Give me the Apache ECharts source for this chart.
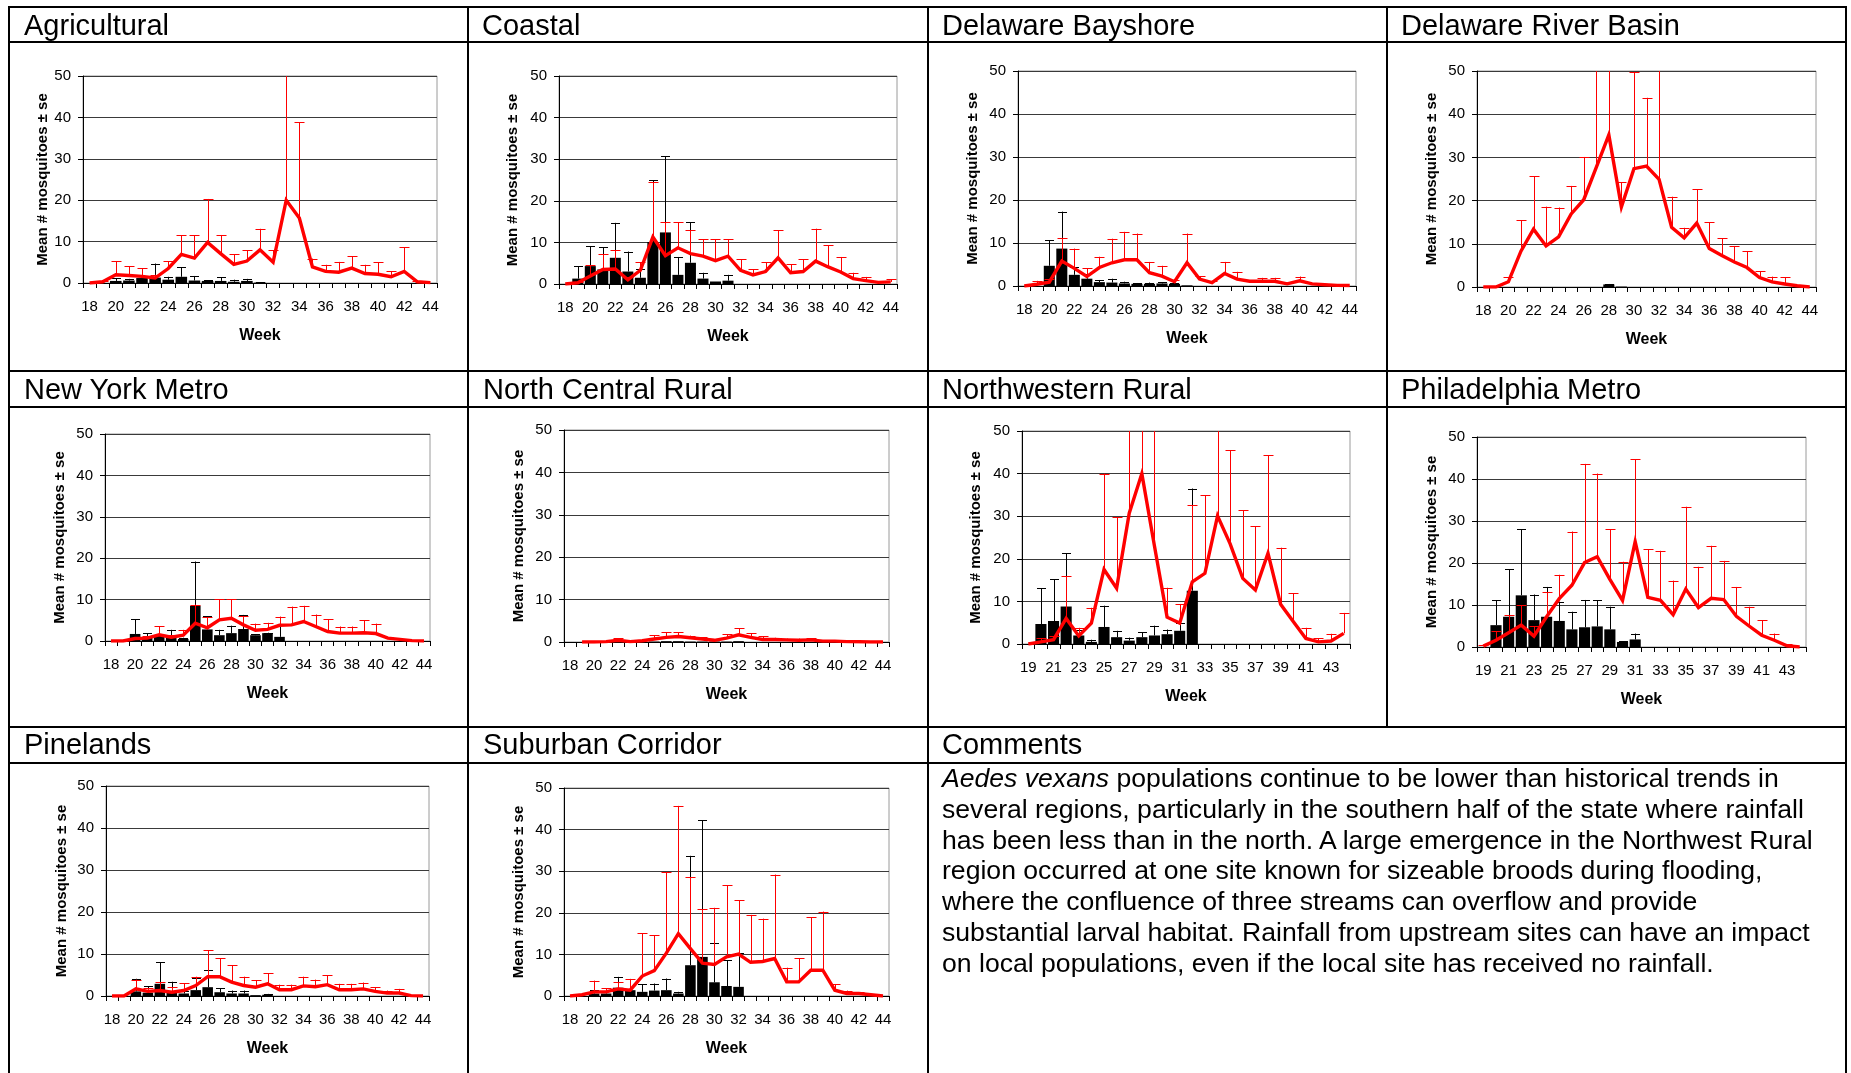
<!DOCTYPE html>
<html>
<head>
<meta charset="utf-8">
<script src="https://cdn.jsdelivr.net/npm/echarts@6/dist/echarts.min.js"></script>
<style>
html,body{margin:0;padding:0;background:#fff;}
#wrap{position:relative;width:1851px;height:1073px;overflow:hidden;font-family:'Liberation Sans',Arial,sans-serif;color:#000;}
#chart{position:absolute;left:0;top:0;width:1851px;height:1073px;}
.ln{position:absolute;background:#000;}
.ttl{position:absolute;font-size:29px;line-height:30px;white-space:nowrap;}
#cm{position:absolute;left:942px;top:763px;font-size:26.6px;line-height:30.8px;white-space:nowrap;}
</style>
</head>
<body>
<div id="wrap">
  <div id="chart"></div>
  <!-- table lines -->
  <div class="ln" style="left:8px;top:6px;width:1839px;height:2px"></div>
  <div class="ln" style="left:8px;top:41px;width:1839px;height:2px"></div>
  <div class="ln" style="left:8px;top:370px;width:1839px;height:2px"></div>
  <div class="ln" style="left:8px;top:406px;width:1839px;height:2px"></div>
  <div class="ln" style="left:8px;top:726px;width:1839px;height:2px"></div>
  <div class="ln" style="left:8px;top:762px;width:1839px;height:2px"></div>
  <div class="ln" style="left:8px;top:6px;width:2px;height:1067px"></div>
  <div class="ln" style="left:467px;top:6px;width:2px;height:1067px"></div>
  <div class="ln" style="left:927px;top:6px;width:2px;height:1067px"></div>
  <div class="ln" style="left:1386px;top:6px;width:2px;height:722px"></div>
  <div class="ln" style="left:1845px;top:6px;width:2px;height:1067px"></div>
  <!-- titles -->
  <div class="ttl" style="left:24px;top:10px">Agricultural</div>
  <div class="ttl" style="left:482px;top:10px">Coastal</div>
  <div class="ttl" style="left:942px;top:10px">Delaware Bayshore</div>
  <div class="ttl" style="left:1401px;top:10px">Delaware River Basin</div>
  <div class="ttl" style="left:24px;top:374px">New York Metro</div>
  <div class="ttl" style="left:483px;top:374px">North Central Rural</div>
  <div class="ttl" style="left:942px;top:374px">Northwestern Rural</div>
  <div class="ttl" style="left:1401px;top:374px">Philadelphia Metro</div>
  <div class="ttl" style="left:24px;top:729px">Pinelands</div>
  <div class="ttl" style="left:483px;top:729px">Suburban Corridor</div>
  <div class="ttl" style="left:942px;top:729px">Comments</div>
  <div id="cm"><i>Aedes vexans</i> populations continue to be lower than historical trends in<br>several regions, particularly in the southern half of the state where rainfall<br>has been less than in the north. A large emergence in the Northwest Rural<br>region occurred at one site known for sizeable broods during flooding,<br>where the confluence of three streams can overflow and provide<br>substantial larval habitat. Rainfall from upstream sites can have an impact<br>on local populations, even if the local site has received no rainfall.</div>
</div>
<script>
// ---------- tick labels (weeks) ----------
const weeks18 = ['18','19','20','21','22','23','24','25','26','27','28','29','30','31','32','33','34','35','36','37','38','39','40','41','42','43','44'];
const weeks19 = ['19','20','21','22','23','24','25','26','27','28','29','30','31','32','33','34','35','36','37','38','39','40','41','42','43','44'];
const yTicks = [0, 10, 20, 30, 40, 50];

// ---------- Agricultural ----------
const agBar = [0,0,0.5,0.6,1.2,1.3,0.8,1.5,0.6,0.5,0.5,0.3,0.5,0.1,0,0,0,0,0,0,0,0,0,0,0,0,0];
const agBarTop = [null,null,1.2,1.0,1.8,4.7,1.5,3.8,1.7,0.7,1.4,0.8,1.0,0.2,null,null,null,null,null,null,null,null,null,null,null,null,null];
const agLine = [0,0.3,2.0,1.8,1.6,1.2,3.5,6.9,6.0,9.8,7.1,4.5,5.3,8.0,5.0,20.0,15.7,3.9,2.8,2.6,3.6,2.3,2.1,1.5,2.8,0.3,0.1];
const agLineTop = [null,0.5,5.3,4.1,3.6,2.0,5.3,11.5,11.5,20.3,11.6,6.9,7.9,13.1,7.9,55,38.8,5.9,4.4,5.1,6.5,4.4,5.0,2.8,8.6,0.6,null];

// ---------- Coastal ----------
const coBar = [0,1.3,4.3,3.5,6.3,3.0,1.5,10.1,12.4,2.2,5.1,1.3,0.6,0.8,0,0,0,0,0,0,0,0,0,0,0,0,0];
const coBarTop = [null,4.3,9.1,8.8,14.7,7.8,3.7,25.0,30.7,6.5,14.9,2.7,0.6,2.2,null,null,null,null,null,null,null,null,null,null,null,null,null];
const coLine = [0,0.3,1.9,3.5,3.6,1.0,3.3,11.3,6.8,8.7,7.3,6.7,5.6,6.7,3.3,2.2,3.0,6.3,2.7,3.0,5.5,4.1,2.9,1.3,0.8,0.4,0.5];
const coLineTop = [null,0.5,4.5,7.2,8.1,1.7,5.2,24.5,14.9,14.9,12.9,10.8,10.8,10.8,5.9,3.6,5.2,12.9,4.7,6.0,13.3,9.3,6.5,2.7,1.7,0.6,1.2];

// ---------- Delaware Bayshore ----------
const dbBar = [0,0,4.7,8.7,2.6,1.7,0.9,0.8,0.6,0.5,0.5,0.6,0.5,0.15,0,0,0,0,0,0,0,0,0,0,0,0,0];
const dbBarTop = [null,null,10.6,17.3,4.5,2.9,1.4,1.7,1.0,0.7,0.8,0.9,0.6,null,null,null,null,null,null,null,null,null,null,null,null,null,null];
const dbLine = [0,0.4,0.9,5.8,4.1,2.2,4.3,5.4,6.1,6.1,3.1,2.3,1.0,5.4,1.6,0.8,2.9,1.6,1.1,1.1,1.1,0.5,1.2,0.5,0.3,0.15,0.1];
const dbLineTop = [null,1.2,1.6,11.2,8.7,4.1,6.8,11.0,12.6,12.2,5.6,4.7,1.3,12.2,2.3,1.2,5.6,3.3,1.2,1.9,1.9,0.8,2.2,0.4,0.3,null,null];

// ---------- Delaware River Basin ----------
const drBar = [0,0,0,0,0,0,0,0,0,0,0.6,0.1,0,0,0,0,0,0,0,0,0,0,0,0,0,0,0];
const drBarTop = [null,null,null,null,null,null,null,null,null,null,0.7,null,null,null,null,null,null,null,null,null,null,null,null,null,null,null,null];
const drLine = [0,0,1.2,8.3,13.4,9.5,11.6,16.9,20.2,27.7,35.2,18.5,27.4,28.0,24.9,13.8,11.4,14.8,8.9,7.3,5.8,4.5,2.2,1.2,0.7,0.3,0];
const drLineTop = [null,null,2.2,15.5,25.6,18.6,18.4,23.4,30.1,55,55,24.3,49.8,43.8,55,20.9,13.7,22.6,15.0,11.3,9.5,8.3,3.6,2.4,2.2,0.3,null];

// ---------- New York Metro ----------
const nyBar = [0,0,1.7,0.8,1.4,0.8,0.5,8.5,2.8,1.4,1.9,2.9,1.4,1.9,1.0,0,0,0,0,0,0,0,0,0,0,0,0];
const nyBarTop = [null,null,5.2,1.9,3.6,2.7,0.8,19.2,6.0,2.7,3.7,6.3,1.6,2.0,3.9,null,null,null,null,null,null,null,null,null,null,null,null];
const nyLine = [0,0,0.6,0.7,1.5,0.9,1.4,4.3,3.2,5.1,5.5,3.9,2.6,2.8,3.8,3.9,4.7,3.5,2.3,1.9,1.9,2.0,1.8,0.7,0.4,0.1,0];
const nyLineTop = [null,null,null,1.2,3.6,1.4,2.7,8.8,5.7,10.1,10.1,6.0,4.2,4.4,5.9,8.3,8.5,6.4,5.2,3.5,3.5,5.0,4.2,0.9,0.5,null,null];

// ---------- North Central Rural ----------
const ncBar = [0,0,0,0,0,0,0,0.1,0.2,0.2,0.1,0.1,0.1,0.1,0.2,0,0,0,0,0,0,0,0,0,0,0,0];
const ncBarTop = [null,null,null,null,null,null,null,null,null,null,null,null,null,null,null,null,null,null,null,null,null,null,null,null,null,null,null];
const ncLine = [null,0,0,0.1,0.4,0.1,0.3,0.7,1.1,1.3,1.0,0.7,0.4,0.9,1.7,1.1,0.6,0.6,0.5,0.4,0.5,0.2,0.2,0.1,0.05,0,0];
const ncLineTop = [null,null,null,null,0.9,null,null,1.6,2.3,2.3,1.5,1.1,0.6,1.8,3.3,2.1,1.3,1.0,0.8,0.8,0.9,0.3,0.3,null,null,null,null];

// ---------- Northwestern Rural (weeks 19-44) ----------
const nwBar = [0,4.7,5.4,8.8,2.0,0.5,4.0,1.6,0.8,1.6,2.0,2.3,3.1,12.5,0,0,0,0,0,0,0,0,0,0,0,0];
const nwBarTop = [null,13.1,15.2,21.3,3.3,1.0,9.0,3.1,1.5,2.7,4.3,3.4,5.0,36.5,null,null,null,null,null,null,null,null,null,null,null,null];
const nwLine = [0,0.5,1.0,6.0,1.9,4.9,17.5,13.1,30.7,40.0,23.0,6.3,4.9,14.6,16.6,30.1,23.5,15.4,12.7,21.3,9.3,5.3,1.3,0.5,0.7,2.5];
const nwLineTop = [null,1.3,1.9,15.9,3.8,8.5,40.0,29.8,55,55,55,13.2,9.4,32.6,34.9,55,45.5,31.4,27.6,44.3,22.6,11.9,3.8,1.3,2.4,7.3];

// ---------- Philadelphia Metro (weeks 19-44) ----------
const phBar = [0,5.2,7.2,12.3,6.4,7.2,6.2,4.2,4.7,4.9,4.2,1.2,1.8,0,0,0,0,0,0,0,0,0,0,0,0,0];
const phBarTop = [null,11.1,18.5,28.0,12.5,14.3,10.8,8.4,11.2,11.1,9.6,1.4,3.2,null,null,null,null,null,null,null,null,null,null,null,null,null];
const phLine = [0.2,1.6,3.4,5.2,2.6,7.2,11.5,14.7,20.1,21.5,16.1,11.1,25.1,11.8,11.1,7.7,13.8,9.4,11.6,11.3,7.3,5.0,2.8,1.6,0.3,0];
const phLineTop = [0.4,3.8,7.6,10.0,5.0,13.0,17.2,27.5,43.6,41.3,28.0,20.3,44.7,23.3,22.9,15.8,33.4,19.1,24.1,20.5,14.3,9.6,6.4,3.2,0.6,null];

// ---------- Pinelands ----------
const piBar = [0,0,1.1,0.8,2.9,1.0,0.6,1.4,2.1,0.9,0.6,0.6,0.2,0.3,0,0,0,0,0,0,0,0,0,0,0,0,0];
const piBarTop = [null,null,4.1,2.3,8.0,3.4,1.1,4.3,6.1,1.9,1.3,1.3,null,0.5,null,null,null,null,null,null,null,null,null,null,null,null,null];
const piLine = [0,0,1.7,1.1,1.3,0.9,1.3,2.5,4.6,4.6,3.3,2.5,2.1,2.9,1.5,1.5,2.4,2.2,2.7,1.5,1.5,1.7,1.1,0.7,0.7,0.1,0];
const piLineTop = [null,null,3.9,1.9,3.3,2.1,3.0,4.6,10.9,9.0,7.3,4.6,3.7,5.4,2.7,2.7,4.6,3.9,4.9,2.9,2.9,3.2,2.1,1.3,1.7,null,null];

// ---------- Suburban Corridor ----------
const suBar = [0,0,0.6,0.6,2.0,1.4,1.0,1.3,1.4,0.6,7.4,9.4,3.3,2.4,2.2,0,0,0,0,0,0,0,0,0,0,0,0];
const suBarTop = [null,null,1.5,1.1,4.6,4.1,2.8,3.0,4.2,1.0,33.7,42.2,12.7,8.6,10.3,null,null,null,null,null,null,null,null,null,null,null,null];
const suLine = [0,0.3,1.0,1.0,1.7,1.4,4.8,6.1,10.3,15.0,11.4,7.9,7.6,9.4,10.1,8.1,8.3,9.0,3.4,3.4,6.2,6.2,1.4,0.6,0.6,0.3,0];
const suLineTop = [null,null,3.7,1.9,3.4,4.1,15.1,14.6,29.8,45.7,28.5,20.8,21.2,26.6,23.0,19.5,18.6,29.2,6.8,9.1,18.9,20.3,2.8,1.3,0.9,null,null];

// ---------- panels: data references + layout ----------
const panelData = [
  [weeks18, agBar, agBarTop, agLine, agLineTop],
  [weeks18, coBar, coBarTop, coLine, coLineTop],
  [weeks18, dbBar, dbBarTop, dbLine, dbLineTop],
  [weeks18, drBar, drBarTop, drLine, drLineTop],
  [weeks18, nyBar, nyBarTop, nyLine, nyLineTop],
  [weeks18, ncBar, ncBarTop, ncLine, ncLineTop],
  [weeks19, nwBar, nwBarTop, nwLine, nwLineTop],
  [weeks19, phBar, phBarTop, phLine, phLineTop],
  [weeks18, piBar, piBarTop, piLine, piLineTop],
  [weeks18, suBar, suBarTop, suLine, suLineTop]
];
// [left, top, width, height, yNameGap]
const layout = [
  [83, 76, 354, 207, 33],
  [559, 76, 338, 208, 39],
  [1018, 71, 338, 215, 38],
  [1477, 71, 339, 216, 38],
  [105, 434, 325, 207, 38],
  [564, 430, 325, 212, 38],
  [1022, 431, 328, 213, 39],
  [1477, 437, 329, 210, 38],
  [106, 786, 323, 210, 37],
  [564, 788, 325, 208, 38]
];

const FONT = "'Liberation Sans', Arial, sans-serif";
const YMAX = yTicks[yTicks.length - 1];

function errSeries(g, means, tops, color, capW, z) {
  const data = means.map((m, i) => [i, m == null ? 0 : m, tops[i]]);
  return {
    type: 'custom', xAxisIndex: g, yAxisIndex: g, z: z, silent: true,
    encode: { x: 0, y: [1, 2] },
    data: data,
    renderItem: function (params, api) {
      const i = api.value(0), m = api.value(1), t = api.value(2);
      if (t == null || isNaN(t) || t <= m) return null;
      const top = Math.min(t, YMAX);
      const p0 = api.coord([i, m]);
      const p1 = api.coord([i, top]);
      const x = Math.round(p0[0]) + 0.5;
      const children = [{
        type: 'line',
        shape: { x1: x, y1: p0[1], x2: x, y2: p1[1] },
        style: { stroke: color, lineWidth: 1 }
      }];
      if (t <= YMAX) {
        const y = Math.round(p1[1]) + 0.5;
        children.push({
          type: 'line',
          shape: { x1: x - capW / 2, y1: y, x2: x + capW / 2, y2: y },
          style: { stroke: color, lineWidth: 1 }
        });
      }
      return { type: 'group', children: children };
    }
  };
}

const grids = [], xAxes = [], yAxes = [], series = [];
panelData.forEach(function (pd, g) {
  const L = layout[g];
  const cats = pd[0];
  grids.push({
    left: L[0], top: L[1], width: L[2], height: L[3],
    show: true, borderColor: '#9a9a9a', borderWidth: 1, backgroundColor: 'transparent',
    containLabel: false, outerBoundsMode: 'none'
  });
  xAxes.push({
    gridIndex: g, type: 'category', data: cats, boundaryGap: true,
    axisLine: { show: true, onZero: false, lineStyle: { color: '#000', width: 1 } },
    axisTick: { show: true, interval: 0, alignWithLabel: false, length: 5, inside: false, lineStyle: { color: '#000' } },
    axisLabel: { interval: 1, fontSize: 15, color: '#000', margin: 16.5, fontFamily: FONT },
    splitLine: { show: false },
    name: 'Week', nameLocation: 'middle', nameGap: 44.5, nameMoveOverlap: false,
    nameTextStyle: { fontWeight: 'bold', fontSize: 16, color: '#000', fontFamily: FONT }
  });
  yAxes.push({
    gridIndex: g, type: 'value', min: yTicks[0], max: YMAX, interval: 10,
    axisLine: { show: true, lineStyle: { color: '#000', width: 1 } },
    axisTick: { show: true, length: 5, inside: false, lineStyle: { color: '#000' } },
    axisLabel: { fontSize: 15, color: '#000', margin: 12, fontFamily: FONT },
    splitLine: { show: true, lineStyle: { color: '#3a3a3a', width: 1 } },
    name: 'Mean # mosquitoes \u00b1 se', nameLocation: 'middle', nameRotate: 90, nameGap: L[4], nameMoveOverlap: false,
    nameTextStyle: { fontWeight: 'bold', fontSize: 15, color: '#000', fontFamily: FONT }
  });
  series.push({
    type: 'bar', xAxisIndex: g, yAxisIndex: g, data: pd[1], z: 2,
    barCategoryGap: '12%', itemStyle: { color: '#000' }, silent: true
  });
  series.push(errSeries(g, pd[1], pd[2], '#000', 9, 3));
  series.push(errSeries(g, pd[3], pd[4], '#ff0000', 10, 4));
  series.push({
    type: 'line', xAxisIndex: g, yAxisIndex: g, data: pd[3], z: 5,
    showSymbol: false, symbol: 'none', silent: true,
    lineStyle: { color: '#ff0000', width: 3.4, join: 'miter' }
  });
});

const chart = echarts.init(document.getElementById('chart'), null, { renderer: 'canvas', width: 1851, height: 1073 });
chart.setOption({
  animation: false,
  backgroundColor: '#fff',
  textStyle: { fontFamily: FONT },
  grid: grids, xAxis: xAxes, yAxis: yAxes, series: series
});
</script>
</body>
</html>
